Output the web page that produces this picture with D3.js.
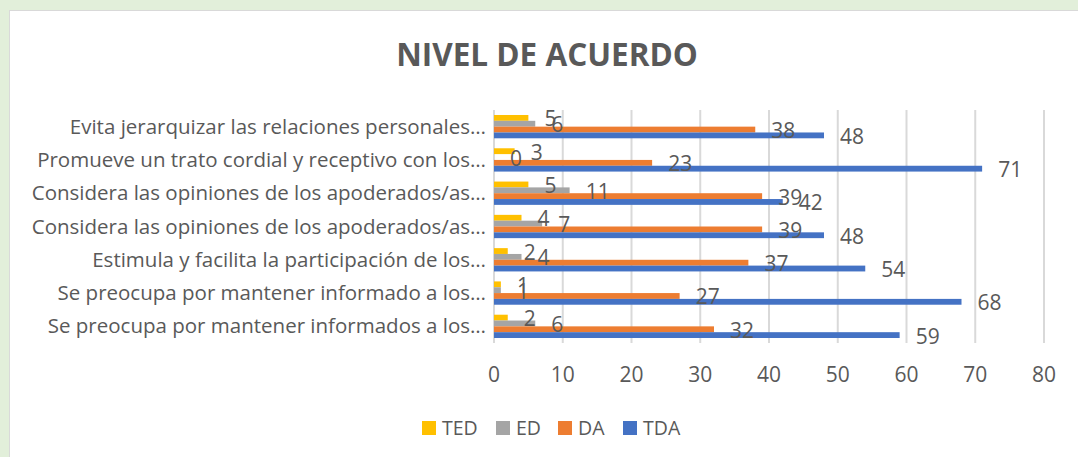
<!DOCTYPE html>
<html>
<head>
<meta charset="utf-8">
<script src="https://cdn.jsdelivr.net/npm/d3@7"></script>
<style>
  body { margin: 0; background: #e2efda; }
  svg { display: block; }
  text { font-family: "Open Sans", "Noto Sans", sans-serif; fill: #595959; }
</style>
</head>
<body>
<div id="chart"></div>
<script>
var categories = [
  "Se preocupa por mantener informados a los…",
  "Se preocupa por mantener informado a los…",
  "Estimula y facilita la participación de los…",
  "Considera las opiniones de los apoderados/as…",
  "Considera las opiniones de los apoderados/as…",
  "Promueve un trato cordial y receptivo con los…",
  "Evita jerarquizar las relaciones personales…"
];
var seriesNames = ["TED", "ED", "DA", "TDA"];
var seriesColors = ["#ffc000", "#a5a5a5", "#ed7d31", "#4472c4"];
var TED = [2, 1, 2, 4, 5, 3, 5];
var ED = [6, 1, 4, 7, 11, 0, 6];
var DA = [32, 27, 37, 39, 39, 23, 38];
var TDA = [59, 68, 54, 48, 42, 71, 48];
var xTicks = [0, 10, 20, 30, 40, 50, 60, 70, 80];

var values = [TED, ED, DA, TDA];

var width = 1078,
	height = 457,
	margin = { top: 110, bottom: 343, left: 494, right: 1044 };

var svg = d3.select('#chart')
	.append('svg')
	.attr('width', width)
	.attr('height', height);

// white chart area with grey edge
svg.append('rect')
	.attr('x', 9.5).attr('y', 10.5)
	.attr('width', width).attr('height', height)
	.style('fill', '#fff')
	.style('stroke', '#d9d9d9');

var x = d3.scaleLinear()
	.domain([0, 80])
	.range([margin.left, margin.right]);

// index 0 at the bottom, like Excel
var rows = d3.range(categories.length);
var y = d3.scaleBand()
	.domain(rows.slice().reverse())
	.range([margin.top, margin.bottom])
	.paddingInner(0.3)
	.paddingOuter(0.15);

var y1 = d3.scaleBand()
	.domain(d3.range(seriesNames.length))
	.range([0, y.bandwidth()]);

svg.append('text')
	.attr('x', 547)
	.attr('y', 66)
	.attr('text-anchor', 'middle')
	.style('font-size', '31.5px')
	.style('font-weight', 'bold')
	.text('NIVEL DE ACUERDO');

// gridlines
svg.append('g')
	.selectAll('line')
	.data(xTicks.slice(1))
	.enter()
	.append('line')
	.attr('x1', function(d) { return x(d); })
	.attr('x2', function(d) { return x(d); })
	.attr('y1', margin.top)
	.attr('y2', margin.bottom)
	.style('stroke', '#d9d9d9')
	.style('stroke-width', 2);

svg.append('line')
	.attr('x1', x(0)).attr('x2', x(0))
	.attr('y1', margin.top).attr('y2', margin.bottom)
	.style('stroke', '#d9d9d9')
	.style('stroke-width', 2);

// x tick labels
svg.append('g')
	.selectAll('text')
	.data(xTicks)
	.enter()
	.append('text')
	.attr('x', function(d) { return x(d); })
	.attr('y', 382)
	.attr('text-anchor', 'middle')
	.style('font-size', '21px')
	.text(function(d) { return d; });

// category labels
svg.append('g')
	.selectAll('text')
	.data(rows)
	.enter()
	.append('text')
	.attr('x', 486)
	.attr('y', function(d) { return y(d) + y.bandwidth() / 2 + 7; })
	.attr('text-anchor', 'end')
	.style('font-size', '20.5px')
	.text(function(d) { return categories[d]; });

// bars
seriesNames.forEach(function(name, s) {
	var g = svg.append('g');
	g.selectAll('rect')
		.data(rows)
		.enter()
		.append('rect')
		.attr('x', x(0))
		.attr('y', function(d) { return y(d) + y1(s); })
		.attr('width', function(d) { return x(values[s][d]) - x(0); })
		.attr('height', y1.bandwidth())
		.style('fill', seriesColors[s]);
});

// data labels on top of all bars
seriesNames.forEach(function(name, s) {
	svg.append('g')
		.selectAll('text')
		.data(rows)
		.enter()
		.append('text')
		.attr('x', function(d) { return x(values[s][d]) + 16; })
		.attr('y', function(d) { return y(d) + y1(s) + y1.bandwidth() / 2 + 8.5; })
		.style('font-size', '21px')
		.text(function(d) { return values[s][d]; });
});

// legend
var legendX = [422, 496, 558, 623];
var legend = svg.append('g')
	.selectAll('g')
	.data(seriesNames)
	.enter()
	.append('g')
	.attr('transform', function(d, i) { return 'translate(' + legendX[i] + ',421)'; });

legend.append('rect')
	.attr('width', 14)
	.attr('height', 14)
	.style('fill', function(d, i) { return seriesColors[i]; });

legend.append('text')
	.attr('x', 20)
	.attr('y', 14)
	.style('font-size', '19.5px')
	.text(function(d) { return d; });
</script>
</body>
</html>
